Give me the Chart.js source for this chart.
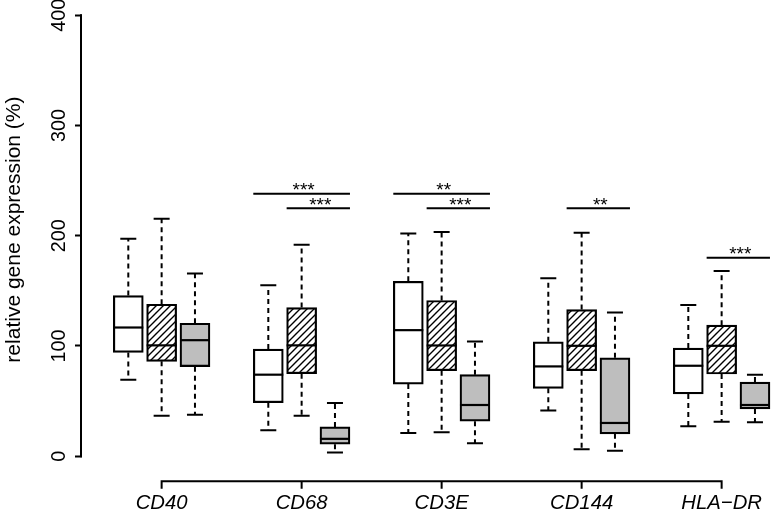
<!DOCTYPE html>
<html><head><meta charset="utf-8">
<script src="https://cdn.jsdelivr.net/npm/chart.js@4/dist/chart.umd.min.js"></script>
<style>html,body{margin:0;padding:0;background:#fff}</style>
</head><body>
<canvas id="c" width="773" height="517"></canvas>
<script>
// ---- data ----
const categories = ['CD40', 'CD68', 'CD3E', 'CD144', 'HLA\u2212DR'];
const yTicks = [0, 100, 200, 300, 400];

// group A (white boxes)
const aMin = [69.3, 23.5, 21.1, 41.3, 27.1];
const aQ1  = [94.1, 48.5, 65.4, 61.5, 56.4];
const aMed = [116.7, 73.9, 114.3, 81.4, 82.0];
const aQ3  = [145.7, 97.1, 158.6, 103.7, 98.0];
const aMax = [197.2, 155.0, 202.0, 161.4, 137.2];

// group B (hatched boxes)
const bMin = [36.7, 36.7, 21.7, 6.3, 31.3];
const bQ1  = [86.0, 74.8, 77.5, 77.5, 74.5];
const bMed = [100.5, 100.5, 100.4, 100.1, 100.1];
const bQ3  = [137.8, 134.8, 141.2, 133.0, 118.8];
const bMax = [215.4, 191.8, 203.3, 202.7, 168.0];

// group C (grey boxes)
const cMin = [37.6, 3.3, 11.8, 4.8, 30.8];
const cQ1  = [81.2, 10.8, 31.7, 20.2, 42.8];
const cMed = [105.2, 15.7, 46.4, 30.1, 46.4];
const cQ3  = [120.6, 26.5, 73.9, 89.2, 67.2];
const cMax = [165.6, 48.2, 104.0, 130.3, 73.9];

// significance brackets
const sigCategory  = [1, 1, 2, 2, 3, 4];
const sigFromGroup = [0, 1, 0, 1, 1, 1];
const sigToGroup   = [2, 2, 2, 2, 2, 2];
const sigLevel     = [238, 225, 238, 225, 225, 180];
const sigLabel     = ['***', '***', '**', '***', '**', '***'];

// ---- layout helpers ----
const GROUP_STEP = 4.2;
const pos = (i, j) => i * GROUP_STEP + j;
const FONT = "'Liberation Sans', Arial, Helvetica, sans-serif";

const groups = [
  {min: aMin, q1: aQ1, med: aMed, q3: aQ3, max: aMax},
  {min: bMin, q1: bQ1, med: bMed, q3: bQ3, max: bMax},
  {min: cMin, q1: cQ1, med: cMed, q3: cQ3, max: cMax}
];

function makeHatch() {
  const t = document.createElement('canvas');
  t.width = 7; t.height = 7;
  const g = t.getContext('2d');
  g.fillStyle = '#fff'; g.fillRect(0, 0, 7, 7);
  g.strokeStyle = '#000'; g.lineWidth = 1.4;
  g.beginPath();
  g.moveTo(-1, 8); g.lineTo(8, -1);
  g.moveTo(-1, 1); g.lineTo(1, -1);
  g.moveTo(6, 8); g.lineTo(8, 6);
  g.stroke();
  return document.createElement('canvas').getContext('2d').createPattern(t, 'repeat');
}
const fills = ['#ffffff', makeHatch(), '#bebebe'];

const datasets = groups.map((g, j) => ({
  data: categories.map((c, i) => ({x: pos(i, j), y: [g.q1[i], g.q3[i]]})),
  backgroundColor: fills[j],
  borderColor: '#000',
  borderWidth: 2.2,
  borderSkipped: false,
  barThickness: 30,
  grouped: false
}));

const boxExtras = {
  id: 'boxExtras',
  beforeDatasetsDraw(chart) {
    const {ctx, scales: {x, y}, chartArea} = chart;
    ctx.save();
    ctx.strokeStyle = '#000';
    ctx.lineWidth = 2;
    ctx.lineCap = 'butt';
    // y axis line from first to last tick (R style)
    ctx.beginPath();
    ctx.moveTo(chartArea.left - 1, y.getPixelForValue(yTicks[0]) + 1);
    ctx.lineTo(chartArea.left - 1, y.getPixelForValue(yTicks[yTicks.length - 1]) - 1);
    ctx.stroke();
    groups.forEach((g, j) => {
      categories.forEach((c, i) => {
        const px = x.getPixelForValue(pos(i, j));
        const cap = 8;
        ctx.setLineDash([5, 4]);
        ctx.beginPath();
        ctx.moveTo(px, y.getPixelForValue(g.q3[i]));
        ctx.lineTo(px, y.getPixelForValue(g.max[i]));
        ctx.moveTo(px, y.getPixelForValue(g.q1[i]));
        ctx.lineTo(px, y.getPixelForValue(g.min[i]));
        ctx.stroke();
        ctx.setLineDash([]);
        ctx.beginPath();
        ctx.moveTo(px - cap, y.getPixelForValue(g.max[i]));
        ctx.lineTo(px + cap, y.getPixelForValue(g.max[i]));
        ctx.moveTo(px - cap, y.getPixelForValue(g.min[i]));
        ctx.lineTo(px + cap, y.getPixelForValue(g.min[i]));
        ctx.stroke();
      });
    });
    ctx.restore();
  },
  afterDatasetsDraw(chart) {
    const {ctx, scales: {x, y}} = chart;
    ctx.save();
    ctx.strokeStyle = '#000';
    ctx.fillStyle = '#000';
    ctx.lineWidth = 2.2;
    groups.forEach((g, j) => {
      const meta = chart.getDatasetMeta(j);
      categories.forEach((c, i) => {
        const el = meta.data[i];
        const half = el.width / 2;
        const py = y.getPixelForValue(g.med[i]);
        ctx.beginPath();
        ctx.moveTo(el.x - half, py);
        ctx.lineTo(el.x + half, py);
        ctx.stroke();
      });
    });
    ctx.lineWidth = 2;
    ctx.font = '19px ' + FONT;
    ctx.textAlign = 'center';
    ctx.textBaseline = 'alphabetic';
    sigLabel.forEach((lab, k) => {
      const a = chart.getDatasetMeta(sigFromGroup[k]).data[sigCategory[k]];
      const b = chart.getDatasetMeta(sigToGroup[k]).data[sigCategory[k]];
      const x1 = a.x - a.width / 2, x2 = b.x + b.width / 2;
      const py = y.getPixelForValue(sigLevel[k]);
      ctx.beginPath();
      ctx.moveTo(x1, py);
      ctx.lineTo(x2, py);
      ctx.stroke();
      ctx.fillText(lab, (x1 + x2) / 2 + 2, py + 2.6);
    });
    ctx.restore();
  },
  afterDraw(chart) {
    const {ctx, scales: {x}, chartArea} = chart;
    const ay = chartArea.bottom + 25.2;
    const xs = x.ticks.map(t => x.getPixelForValue(t.value));
    ctx.save();
    ctx.strokeStyle = '#000';
    ctx.lineWidth = 2;
    ctx.beginPath();
    ctx.moveTo(xs[0] - 1, ay);
    ctx.lineTo(xs[xs.length - 1] + 1, ay);
    xs.forEach(px => { ctx.moveTo(px, ay); ctx.lineTo(px, ay + 7.5); });
    ctx.stroke();
    ctx.restore();
  }
};

new Chart(document.getElementById('c'), {
  type: 'bar',
  data: {datasets},
  options: {
    responsive: false,
    animation: false,
    devicePixelRatio: 1,
    layout: {padding: {top: 3, bottom: 1, left: 0, right: 0}},
    plugins: {legend: {display: false}, tooltip: {enabled: false}},
    scales: {
      x: {
        type: 'linear',
        offset: false,
        min: -1.389,
        max: 19.341,
        afterBuildTicks: s => { s.ticks = categories.map((c, i) => ({value: pos(i, 1)})); },
        afterFit: s => { s.paddingLeft = 0; s.paddingRight = 0; },
        ticks: {
          autoSkip: false,
          minRotation: 0, maxRotation: 0,
          padding: 0,
          color: '#000',
          font: {family: FONT, size: 20.3, style: 'italic'},
          callback: (v, i) => categories[i]
        },
        grid: {display: true, offset: false, drawOnChartArea: false, drawTicks: true, tickLength: 35.5, tickColor: 'rgba(0,0,0,0)'},
        border: {display: false}
      },
      y: {
        type: 'linear',
        min: 0,
        max: 411.1,
        afterBuildTicks: s => { s.ticks = yTicks.map(v => ({value: v})); },
        afterFit: s => { s.width = 82; s.paddingTop = 0; s.paddingBottom = 0; },
        ticks: {
          minRotation: 90, maxRotation: 90,
          crossAlign: 'center',
          padding: -1,
          color: '#000',
          font: {family: FONT, size: 19.8}
        },
        grid: {display: true, drawOnChartArea: false, drawTicks: true, tickLength: 7, tickColor: '#000', tickWidth: 2},
        border: {display: false},
        title: {
          display: true,
          text: 'relative gene expression (%)',
          color: '#000',
          font: {family: FONT, size: 21},
          padding: {top: 2, bottom: 0}
        }
      }
    }
  },
  plugins: [boxExtras]
});
</script>
</body></html>
